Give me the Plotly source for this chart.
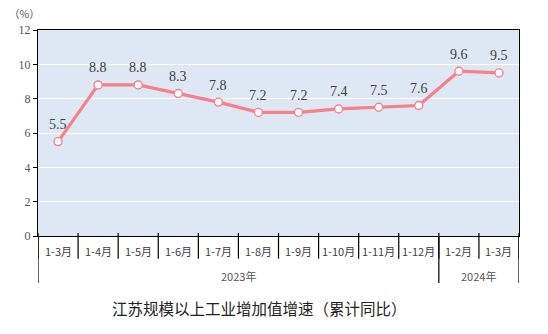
import plotly.graph_objects as go

# Cumulative year-on-year growth of industrial value added above designated size, Jiangsu
periods = ["1-3月", "1-4月", "1-5月", "1-6月", "1-7月", "1-8月", "1-9月",
           "1-10月", "1-11月", "1-12月", "1-2月", "1-3月"]
growth = [5.5, 8.8, 8.8, 8.3, 7.8, 7.2, 7.2, 7.4, 7.5, 7.6, 9.6, 9.5]
years = ["2023年", "2024年"]
year_counts = [10, 2]
y_ticks = [0, 2, 4, 6, 8, 10, 12]

SERIF = "Liberation Serif, Times New Roman, serif"
CJK = "Noto Sans CJK SC, sans-serif"
LINE = "#F7818A"
TEXT = "#404040"

x_idx = list(range(len(periods)))

fig = go.Figure()
fig.add_trace(go.Scatter(
    x=x_idx, y=growth,
    mode="lines+markers",
    line=dict(color=LINE, width=3.2),
    marker=dict(size=8, color="white", line=dict(color=LINE, width=1.4)),
    hoverinfo="skip",
))

shapes = []
annotations = []

# Value labels above each point
for i, v in zip(x_idx, growth):
    annotations.append(dict(
        x=i, y=v, xref="x", yref="y", text=f"{v:.1f}", showarrow=False,
        yshift=17, font=dict(family=SERIF, size=14, color=TEXT),
    ))

# Row of period labels under the axis, with short separators between them
for i, p in enumerate(periods):
    annotations.append(dict(
        x=i, y=-0.075, xref="x", yref="paper", text=p, showarrow=False,
        font=dict(family=CJK, size=11, color=TEXT), yanchor="middle",
    ))
for b in range(len(periods) + 1):
    shapes.append(dict(
        type="line", xref="x", yref="paper", x0=b - 0.5, x1=b - 0.5,
        y0=0.015, y1=-0.11, line=dict(color="black", width=1.2),
    ))

# Year group row with taller dividers at group edges
start = 0
edges = [0]
for yr, n in zip(years, year_counts):
    mid = start + (n - 1) / 2
    annotations.append(dict(
        x=mid, y=-0.195, xref="x", yref="paper", text=yr, showarrow=False,
        font=dict(family=CJK, size=11, color="#555555"), yanchor="middle",
    ))
    start += n
    edges.append(start)
for e in edges:
    shapes.append(dict(
        type="line", xref="x", yref="paper", x0=e - 0.5, x1=e - 0.5,
        y0=0, y1=-0.228, line=dict(color="black", width=1.2),
    ))

# Unit label and caption
annotations.append(dict(
    x=-0.028, y=1.078, xref="paper", yref="paper", text="（%）", showarrow=False,
    font=dict(family=CJK, size=10.5, color="#555555"), xanchor="center", yanchor="middle",
))
annotations.append(dict(
    x=0.46, y=-0.35, xref="paper", yref="paper",
    text="江苏规模以上工业增加值增速（累计同比）", showarrow=False,
    font=dict(family=CJK, size=15.5, color="#222222"), xanchor="center", yanchor="middle",
))

fig.update_layout(
    width=548, height=334,
    margin=dict(l=38, r=29, t=30, b=98),
    paper_bgcolor="white",
    plot_bgcolor="#DDE8F4",
    showlegend=False,
    shapes=shapes,
    annotations=annotations,
    xaxis=dict(
        range=[-0.5, len(periods) - 0.5], showticklabels=False, showgrid=False,
        zeroline=False, showline=True, linecolor="black", linewidth=1.2, mirror=True,
        ticks="",
    ),
    yaxis=dict(
        range=[0, 12], tickvals=y_ticks, showgrid=True, gridcolor="white", gridwidth=1.2,
        zeroline=False, showline=True, linecolor="black", linewidth=1.2, mirror=True,
        ticks="outside", ticklen=4, tickcolor="black",
        tickfont=dict(family=SERIF, size=12, color="#555555"),
    ),
)

fig.write_html("out.html")
